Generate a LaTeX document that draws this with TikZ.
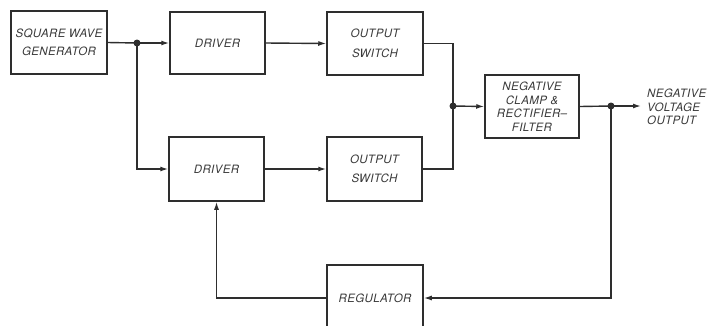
\documentclass[tikz,border=0pt]{standalone}
\usepackage{fontspec}
\setmainfont{TeX Gyre Heros}[LetterSpace=3]
\usetikzlibrary{arrows.meta}
\definecolor{ink}{HTML}{2E2E2E}
\definecolor{txt}{HTML}{3A3A3A}
\tikzset{
  blk/.style={draw=ink, line width=1.5pt, rectangle, minimum width=#1, inner sep=0pt,
    font=\fontsize{11.5}{13.5}\selectfont\itshape, text=txt, align=center},
  blk/.default=96pt,
  wire/.style={draw=ink, line width=1.4pt},
  arr/.style={wire, -{Latex[length=8pt,width=5pt]}},
  dot/.style={circle, fill=ink, inner sep=0pt, minimum size=7pt}
}
\begin{document}
\begin{tikzpicture}[x=1pt,y=-1pt]
\useasboundingbox (0,0) rectangle (711,325);
\fill[white] (0,0) rectangle (711,325);
\begin{scope}
\clip (0,0) rectangle (711,325);
\node[blk=96pt, minimum height=63pt] (sqw) at (59,42.5) {SQUARE WAVE\\[4pt]GENERATOR};
\node[blk=95pt, minimum height=62pt] (drv1) at (217.5,43) {DRIVER};
\node[blk=96pt, minimum height=63pt] (sw1) at (375,43.5) {OUTPUT\\[6pt]SWITCH};
\node[blk=95pt, minimum height=64pt] (drv2) at (216.5,169) {DRIVER};
\node[blk=95pt, minimum height=64pt] (sw2) at (374.5,169) {OUTPUT\\[6pt]SWITCH};
\node[blk=94pt, minimum height=63pt] (clamp) at (532,106.5) {NEGATIVE\\CLAMP \&\\RECTIFIER–\\FILTER};
\node[blk=96pt, minimum height=66pt] (reg) at (375,298) {REGULATOR};
\node[anchor=west, align=left, inner sep=0pt, font=\fontsize{11.5}{13.5}\selectfont\itshape, text=txt] (out) at (647,107) {NEGATIVE\\VOLTAGE\\OUTPUT};
\end{scope}
\node[dot] (j1) at (137,43) {};
\node[dot] (j2) at (453,106) {};
\node[dot] (j3) at (611,106) {};
\coordinate (o) at (641,106);
\coordinate (c1) at (453,43.5);
\draw[wire] (sqw.east) -- (j1.center);
\draw[arr] (j1.center) -- (drv1.west);
\draw[arr] (drv1.east) -- (sw1.west);
\draw[arr] (j1.center) |- (drv2.west);
\draw[arr] (drv2.east) -- (sw2.west);
\draw[wire] (sw1.east) -- (c1) -- (j2.center);
\draw[wire] (sw2.east) -| (j2.center);
\draw[arr] (j2.center) -- (clamp.west);
\draw[wire] (clamp.east) -- (j3.center);
\draw[arr] (j3.center) -- (o);
\draw[arr] (j3.center) |- (reg.east);
\draw[arr] (reg.west) -| (drv2.south);
\end{tikzpicture}
\end{document}
